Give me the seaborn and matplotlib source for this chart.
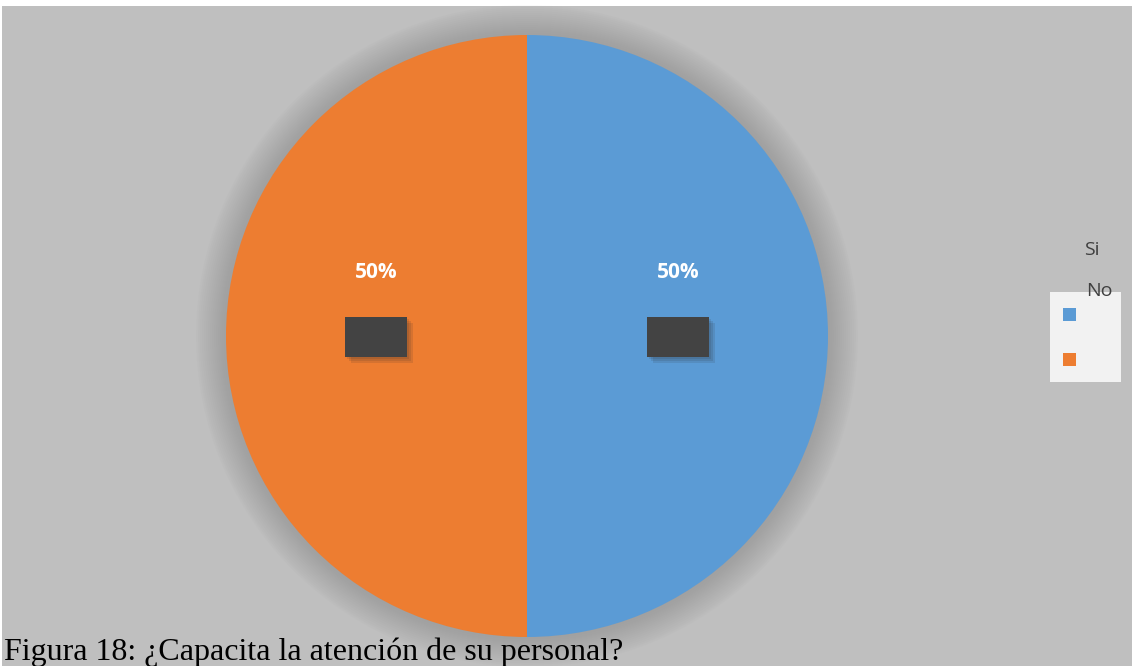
import matplotlib
matplotlib.use("Agg")
import matplotlib.pyplot as plt
from matplotlib.patches import Rectangle, Circle
import seaborn as sns

categories = ["Si", "No"]
values = [50, 50]
caption = "Figura 18: ¿Capacita la atención de su personal?"

sns.set_theme(style="white")
plt.rcParams["font.family"] = ["Open Sans", "DejaVu Sans"]
colors = ["#5B9BD5", "#ED7D31"]

W, H = 1132, 666
fig = plt.figure(figsize=(W / 100, H / 100), dpi=100)
fig.patch.set_facecolor("white")
ax = fig.add_axes([0, 0, 1, 1])

# chart area background
ax.add_patch(Rectangle((2, 0), W - 2, H - 6, facecolor="#BFBFBF", edgecolor="none", zorder=0))

cx, cy, r = 527, H - 336, 301

# soft halo behind the pie
for i in range(16):
    rr = r + 30 - i * 2
    ax.add_patch(Circle((cx, cy), rr, facecolor="#8C8C8C", edgecolor="none", alpha=0.045, zorder=1))

wedges, _ = ax.pie(values, colors=colors, startangle=90, counterclock=False,
                   center=(cx, cy), radius=r, frame=True,
                   wedgeprops=dict(linewidth=0, zorder=2))
ax.set_xlim(0, W)
ax.set_ylim(0, H)
ax.set_aspect("equal")
ax.axis("off")

# percentage labels and callout boxes
total = sum(values)
label_pos = [(678, H - 272), (376, H - 272)]
box_pos = [(647, H - 357), (345, H - 357)]
for v, (lx, ly), (bx, by) in zip(values, label_pos, box_pos):
    ax.text(lx, ly, f"{v / total * 100:.0f}%", color="white", fontsize=15, fontweight="bold",
            ha="center", va="center", zorder=5)
    for k in range(3):
        ax.add_patch(Rectangle((bx + 2 + 2 * k, by - 2 - 2 * k), 62, 40, facecolor="#2A2A2A",
                               alpha=0.12, edgecolor="none", zorder=3))
    ax.add_patch(Rectangle((bx, by), 62, 40, facecolor="#434343", edgecolor="none", zorder=4))

# legend
ax.add_patch(Rectangle((1050, H - 382), 71, 90, facecolor="#F2F2F2", edgecolor="none", zorder=3))
sq_y = [H - 321, H - 366]
txt_pos = [(1092, H - 250), (1099, H - 291)]
for c, name, y, (tx, ty) in zip(colors, categories, sq_y, txt_pos):
    ax.add_patch(Rectangle((1063, y), 13, 13, facecolor=c, edgecolor="none", zorder=4))
    ax.text(tx, ty, name, color="#404040", fontsize=14, ha="center", va="center", zorder=5)

# figure caption
ax.text(4, H - 652, caption, fontsize=23, family=["Liberation Serif", "DejaVu Serif"],
        color="black", ha="left", va="center", zorder=6)

fig.savefig("out.png", dpi=100, facecolor=fig.get_facecolor())
